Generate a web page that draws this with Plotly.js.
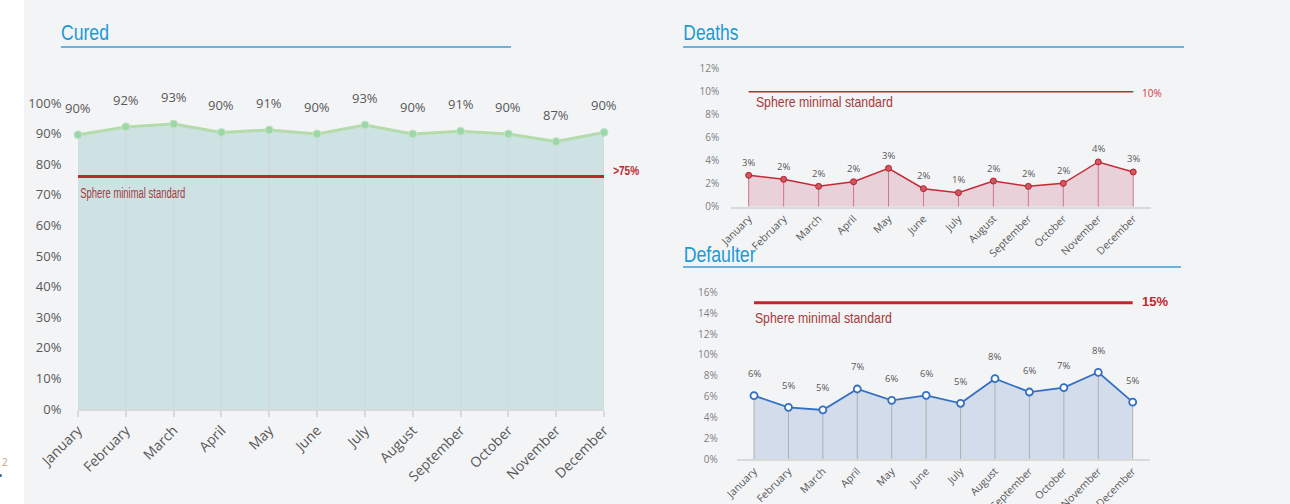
<!DOCTYPE html>
<html>
<head>
<meta charset="utf-8">
<script src="https://cdn.plot.ly/plotly-3.0.1.min.js"></script>
<style>
  html, body { margin: 0; padding: 0; background: #f3f4f6; }
  #chart { width: 1290px; height: 504px; }
</style>
</head>
<body>
<div id="chart"></div>
<script>
// ---- data ----
const months = ['January', 'February', 'March', 'April', 'May', 'June', 'July', 'August', 'September', 'October', 'November', 'December'];
const curedValues = [89.6, 92.2, 93.1, 90.4, 91.2, 89.9, 92.8, 89.9, 90.8, 89.9, 87.4, 90.4];
const deathsValues = [2.73, 2.38, 1.77, 2.17, 3.34, 1.57, 1.22, 2.23, 1.77, 2.03, 3.89, 3.02];
const defaulterValues = [6.10, 4.98, 4.73, 6.74, 5.65, 6.13, 5.37, 7.73, 6.45, 6.87, 8.34, 5.48];
const curedStandard = 76;
const deathsStandard = 10;
const defaulterStandard = 15;
const curedStandardLabel = '>75%';
const deathsStandardLabel = '10%';
const defaulterStandardLabel = '15%';
const standardText = 'Sphere minimal standard';
const curedTicks = [0, 10, 20, 30, 40, 50, 60, 70, 80, 90, 100];
const deathsTicks = [0, 2, 4, 6, 8, 10, 12];
const defaulterTicks = [0, 2, 4, 6, 8, 10, 12, 14, 16];
const chartTitles = ['Cured', 'Deaths', 'Defaulter'];

// ---- helpers ----
const W = 1290, H = 504;
const px = x => x / W;
const py = y => 1 - y / H;
const pct = v => Math.round(v) + '%';
const zeros = arr => arr.map(() => 0);
const flat = (v) => months.map(() => v);
const tickText = arr => arr.map(t => t + '%');

const tickFontSmall = { family: 'Open Sans, sans-serif', size: 10, color: '#7f7f7f' };
const monthFontSmall = { family: 'Open Sans, sans-serif', size: 10.5, color: '#595959' };
const narrow = 'Liberation Sans, Arial, sans-serif';
const red = '#c0272d';

function series(values, xa, ya, opts) {
  return {
    x: months, y: values, xaxis: xa, yaxis: ya,
    type: 'scatter', mode: 'lines+markers',
    fill: 'tozeroy', fillcolor: opts.fill,
    line: { color: opts.line, width: opts.lineWidth },
    marker: opts.marker,
    error_y: { type: 'data', symmetric: false, array: zeros(values), arrayminus: values,
               width: 0, thickness: 1, color: opts.drop },
    hoverinfo: 'x+y', cliponaxis: false
  };
}
function standardLine(v, xa, ya, width) {
  return { x: months, y: flat(v), xaxis: xa, yaxis: ya, type: 'scatter', mode: 'lines',
           line: { color: red, width: width }, hoverinfo: 'skip', cliponaxis: false };
}

const data = [
  series(curedValues, 'x', 'y', {
    fill: '#cde2e3', line: '#b5dbab', lineWidth: 3, drop: '#d6d6d6',
    marker: { size: 8, color: '#9dd6a9', line: { color: '#c5e7c7', width: 1 } }
  }),
  standardLine(curedStandard, 'x', 'y', 3),
  series(deathsValues, 'x2', 'y2', {
    fill: '#e8d1d9', line: '#c42a36', lineWidth: 1.5, drop: '#d27592',
    marker: { size: 6, color: '#d4565f', line: { color: '#b3202c', width: 1 } }
  }),
  standardLine(deathsStandard, 'x2', 'y2', 1.5),
  series(defaulterValues, 'x3', 'y3', {
    fill: '#d2dcea', line: '#3470c0', lineWidth: 1.8, drop: '#b0b0b0',
    marker: { size: 7, color: '#ffffff', line: { color: '#3470c0', width: 1.8 } }
  }),
  standardLine(defaulterStandard, 'x3', 'y3', 3)
];

// ---- annotations ----
const annotations = [];
const fitWidths = {};   // annotation index -> rendered width (narrow-font look)
function addFitted(ann, width) { fitWidths[annotations.length] = width; annotations.push(ann); }

function valueLabels(values, xr, yr, shift, font) {
  values.forEach((v, i) => annotations.push({
    x: months[i], y: v, xref: xr, yref: yr, text: pct(v), showarrow: false,
    yanchor: 'middle', yshift: shift, font: font
  }));
}
valueLabels(curedValues, 'x', 'y', 27, { family: 'Open Sans, sans-serif', size: 13, color: '#595959' });
valueLabels(deathsValues, 'x2', 'y2', 13, { family: 'Open Sans, sans-serif', size: 9.5, color: '#595959' });
valueLabels(defaulterValues, 'x3', 'y3', 22, { family: 'Open Sans, sans-serif', size: 9.5, color: '#595959' });

const stdColor = '#a63a3c';
addFitted({ x: months[0], y: curedStandard, xref: 'x', yref: 'y', text: standardText, showarrow: false,
  xanchor: 'center', yanchor: 'middle', xshift: 54.5, yshift: -17, font: { family: narrow, size: 14, color: stdColor } }, 105);
addFitted({ x: months[11], y: curedStandard, xref: 'x', yref: 'y', text: curedStandardLabel, showarrow: false,
  xanchor: 'center', yanchor: 'middle', xshift: 21.5, yshift: 5, font: { family: narrow, size: 12.5, color: red, weight: 'bold' } }, 26);
addFitted({ x: months[0], y: deathsStandard, xref: 'x2', yref: 'y2', text: standardText, showarrow: false,
  xanchor: 'center', yanchor: 'middle', xshift: 75.8, yshift: -10, font: { family: narrow, size: 15, color: stdColor } }, 137);
annotations.push({ x: months[11], y: deathsStandard, xref: 'x2', yref: 'y2', text: deathsStandardLabel, showarrow: false,
  xanchor: 'left', yanchor: 'middle', xshift: 7, yshift: -1, font: { family: 'Open Sans, sans-serif', size: 10, color: '#d0393f' } });
addFitted({ x: months[0], y: defaulterStandard, xref: 'x3', yref: 'y3', text: standardText, showarrow: false,
  xanchor: 'center', yanchor: 'middle', xshift: 69.5, yshift: -15, font: { family: narrow, size: 15, color: stdColor } }, 137);
annotations.push({ x: months[11], y: defaulterStandard, xref: 'x3', yref: 'y3', text: defaulterStandardLabel, showarrow: false,
  xanchor: 'left', yanchor: 'middle', xshift: 7, yshift: 1, font: { family: narrow, size: 13, color: red, weight: 'bold' } });

// titles
const titleFont = { family: narrow, size: 22, color: '#1b9ad7' };
[[chartTitles[0], 85, 33, 48], [chartTitles[1], 710.5, 33, 55], [chartTitles[2], 719, 254, 72]].forEach(t => addFitted({
  x: px(t[1]), y: py(t[2]), xref: 'paper', yref: 'paper', text: t[0], showarrow: false,
  xanchor: 'center', yanchor: 'middle', font: titleFont
}, t[3]));
// page marker
annotations.push({ x: px(0), y: py(462), xref: 'paper', yref: 'paper', text: '2', showarrow: false,
  xanchor: 'left', yanchor: 'middle', font: { family: 'Open Sans, sans-serif', size: 10, color: '#c9a27a' } });

const shapes = [
  { type: 'rect', xref: 'paper', yref: 'paper', x0: 0, x1: px(24), y0: 0, y1: 1,
    fillcolor: '#ffffff', line: { width: 0 }, layer: 'below' },
  { type: 'line', xref: 'paper', yref: 'paper', x0: px(61), x1: px(511), y0: py(47), y1: py(47),
    line: { color: '#3a9ed9', width: 1.5 } },
  { type: 'line', xref: 'paper', yref: 'paper', x0: px(683), x1: px(1184), y0: py(47), y1: py(47),
    line: { color: '#3a9ed9', width: 1.5 } },
  { type: 'line', xref: 'paper', yref: 'paper', x0: px(683), x1: px(1181), y0: py(267), y1: py(267),
    line: { color: '#3a9ed9', width: 1.5 } },
  { type: 'circle', xref: 'paper', yref: 'paper', x0: px(-1), x1: px(2), y0: py(477), y1: py(474),
    fillcolor: '#2e6f9e', line: { width: 0 } }
];

const baseX = {
  type: 'category', tickangle: -45, showgrid: false, zeroline: false,
  showline: true, linecolor: '#d9d9d9', linewidth: 1.5, fixedrange: true
};
const baseY = { showgrid: false, zeroline: false, showline: false, fixedrange: true,
  tickmode: 'array', ticks: 'outside', tickcolor: 'rgba(0,0,0,0)' };

const layout = {
  width: W, height: H, autosize: false,
  margin: { l: 0, r: 0, t: 0, b: 0 },
  paper_bgcolor: '#f3f4f6', plot_bgcolor: 'rgba(0,0,0,0)',
  showlegend: false,
  xaxis: Object.assign({}, baseX, {
    domain: [px(78), px(604)], range: [0, 11], anchor: 'y',
    ticks: 'outside', ticklen: 6, tickcolor: '#d9d9d9', tickwidth: 1.5,
    tickfont: { family: 'Open Sans, sans-serif', size: 14, color: '#595959' }
  }),
  yaxis: Object.assign({}, baseY, {
    domain: [py(409), py(103)], range: [0, 100], anchor: 'x',
    tickvals: curedTicks, ticktext: tickText(curedTicks), ticklen: 13,
    tickfont: { family: 'Open Sans, sans-serif', size: 13, color: '#595959' }
  }),
  xaxis2: Object.assign({}, baseX, {
    domain: [px(731.2), px(1150.7)], range: [-0.5, 11.5], anchor: 'y2',
    ticks: '', tickfont: monthFontSmall
  }),
  yaxis2: Object.assign({}, baseY, {
    domain: [py(206.7), py(68.7)], range: [0, 12], anchor: 'x2',
    tickvals: deathsTicks, ticktext: tickText(deathsTicks), ticklen: 9, tickfont: tickFontSmall
  }),
  xaxis3: Object.assign({}, baseX, {
    domain: [px(736.8), px(1149.9)], range: [-0.5, 11.5], anchor: 'y3',
    ticks: '', tickfont: monthFontSmall
  }),
  yaxis3: Object.assign({}, baseY, {
    domain: [py(459.3), py(292.4)], range: [0, 16], anchor: 'x3',
    tickvals: defaulterTicks, ticktext: tickText(defaulterTicks), ticklen: 16, tickfont: tickFontSmall
  }),
  annotations: annotations,
  shapes: shapes
};

Plotly.newPlot('chart', data, layout, { displayModeBar: false, responsive: false }).then(() => {
  Object.keys(fitWidths).forEach(idx => {
    const t = document.querySelector('g.annotation[data-index="' + idx + '"] text.annotation-text');
    if (t) {
      t.setAttribute('textLength', fitWidths[idx]);
      t.setAttribute('lengthAdjust', 'spacingAndGlyphs');
    }
  });
});
</script>
</body>
</html>
